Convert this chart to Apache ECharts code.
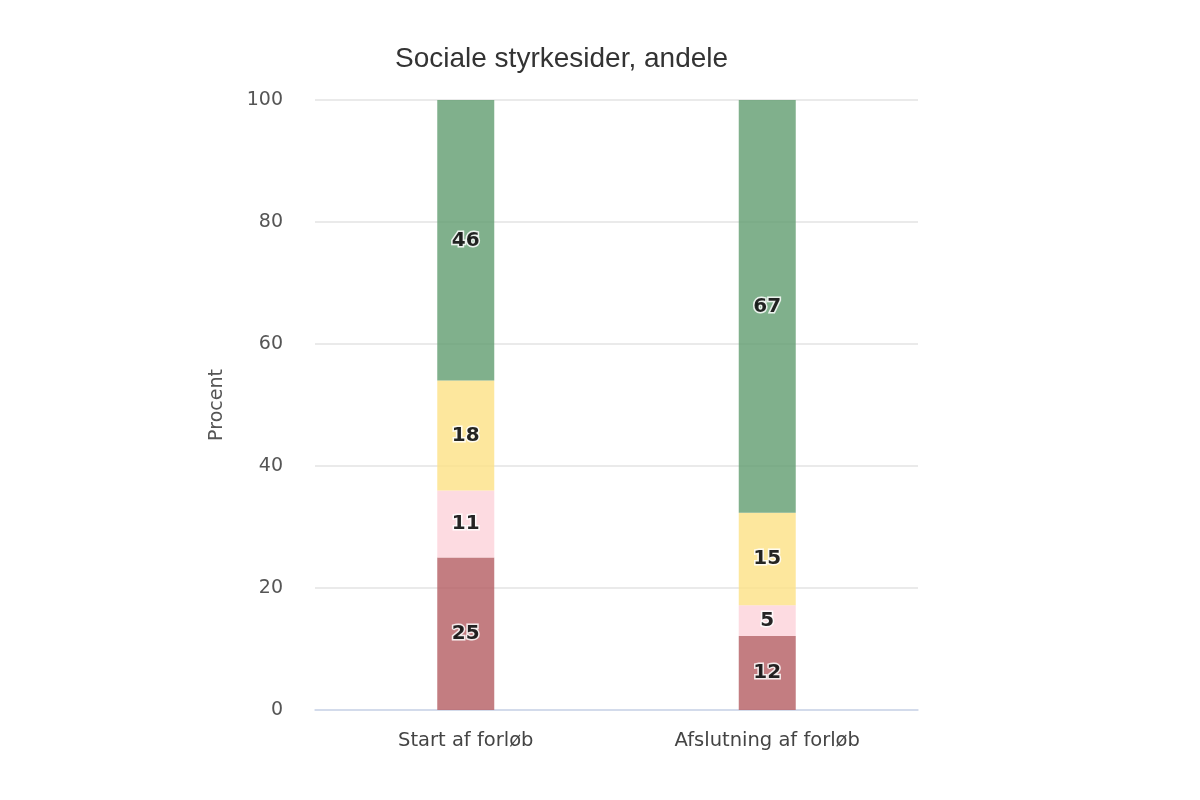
<!DOCTYPE html>
<html>
<head>
<meta charset="utf-8">
<script src="https://cdn.jsdelivr.net/npm/echarts@6/dist/echarts.min.js"></script>
<style>
  html, body { margin: 0; padding: 0; background: #fff; }
  #main { width: 1200px; height: 800px; }
</style>
</head>
<body>
<div id="main"></div>
<script>
// kategorier og værdier (rå tal, vises i labels)
var categories = ['Start af forløb', 'Afslutning af forløb'];
var series_names = ['Svag', 'Lidt svag', 'Middel', 'Stærk'];
var val_red    = [25, 12];
var val_pink   = [11, 5];
var val_yellow = [18, 15];
var val_green  = [46, 67];
var y_ticks = [0, 20, 40, 60, 80, 100];

var colors = ['#b8666b', '#fdd5dc', '#fde38c', '#6aa278'];
var raw = [val_red, val_pink, val_yellow, val_green];

// procent-stabling: normaliser hver kategori til 100
var totals = categories.map(function (c, i) {
    var s = 0;
    raw.forEach(function (arr) { s += arr[i]; });
    return s;
});

var series = [];
for (var k = 0; k < raw.length; k++) {
    (function (arr, idx) {
        series.push({
            name: series_names[idx],
            type: 'bar',
            stack: 'total',
            barWidth: 57,
            itemStyle: { color: colors[idx], opacity: 0.85 },
            label: {
                show: true,
                position: 'inside',
                formatter: function (p) { return arr[p.dataIndex]; },
                color: '#000',
                fontWeight: 'bold',
                fontSize: 20,
                fontFamily: 'DejaVu Sans',
                textBorderColor: '#fff',
                textBorderWidth: 3
            },
            data: arr.map(function (v, i) { return v / totals[i] * 100; })
        });
    })(raw[k], k);
}

var option = {
    animation: false,
    title: {
        text: 'Sociale styrkesider, andele',
        left: 390,
        top: 40,
        textStyle: {
            fontFamily: 'Liberation Sans',
            fontSize: 28,
            fontWeight: 'normal',
            color: '#333'
        }
    },
    grid: { left: 315, right: 282, top: 100, bottom: 90 },
    xAxis: {
        type: 'category',
        data: categories,
        axisTick: { show: false },
        axisLine: { lineStyle: { color: '#ccd6eb', width: 1.5 } },
        axisLabel: {
            fontFamily: 'DejaVu Sans',
            fontSize: 19.5,
            color: '#444',
            margin: 21
        }
    },
    yAxis: {
        type: 'value',
        min: y_ticks[0],
        max: y_ticks[y_ticks.length - 1],
        interval: 20,
        name: 'Procent',
        nameLocation: 'middle',
        nameGap: 88,
        nameTextStyle: {
            fontFamily: 'DejaVu Sans',
            fontSize: 19,
            color: '#555'
        },
        axisLine: { show: false },
        axisTick: { show: false },
        axisLabel: {
            fontFamily: 'DejaVu Sans',
            fontSize: 19,
            color: '#555',
            margin: 32,
            padding: [6, 0, 0, 0]
        },
        splitLine: { lineStyle: { color: '#e3e3e3', width: 1.5 } }
    },
    series: series
};

var chart = echarts.init(document.getElementById('main'));
chart.setOption(option);
</script>
</body>
</html>
